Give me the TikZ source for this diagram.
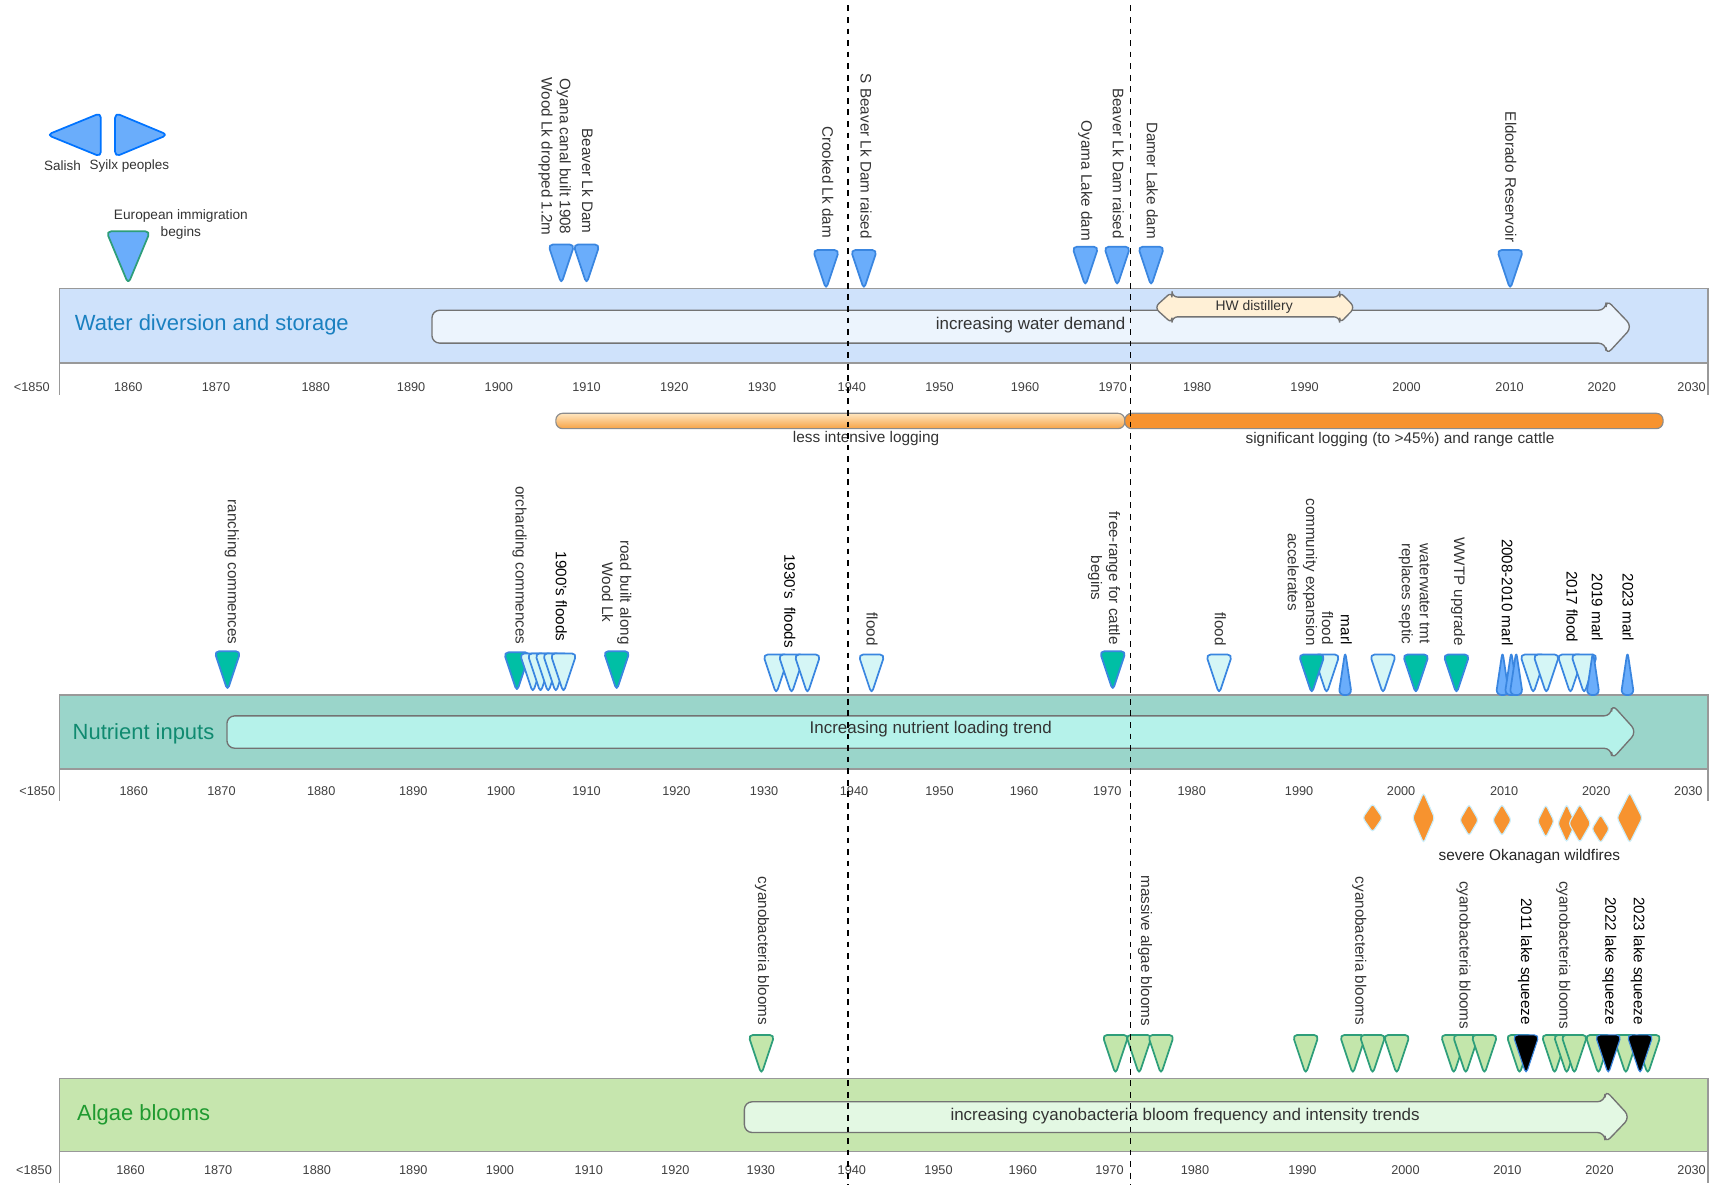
\documentclass[tikz,border=0pt]{standalone}
\usepackage{fontspec}
\setmainfont{Liberation Sans}
\usepackage{tikz}

\definecolor{wband}{HTML}{CFE2FB}
\definecolor{warrow}{HTML}{ECF4FD}
\definecolor{nband}{HTML}{9AD5CA}
\definecolor{narrow}{HTML}{B5F2EA}
\definecolor{aband}{HTML}{C6E6AE}
\definecolor{aarrow}{HTML}{E3F8E3}
\definecolor{mblue}{HTML}{6AADFB}
\definecolor{eblue}{HTML}{3A86E0}
\definecolor{mteal}{HTML}{00BFA5}
\definecolor{mlight}{HTML}{D5F6F6}
\definecolor{mgreen}{HTML}{C3E6AB}
\definecolor{egreen}{HTML}{2E9E7A}
\definecolor{orng}{HTML}{F7932F}
\definecolor{logtop}{HTML}{FFE6BF}
\definecolor{logbot}{HTML}{F7A345}
\definecolor{cream}{HTML}{FFF0D6}
\definecolor{txt}{HTML}{333333}
\definecolor{wtitle}{HTML}{1A80C0}
\definecolor{ntitle}{HTML}{108A70}
\definecolor{atitle}{HTML}{1F9A30}

% down marker, up spike, wildfire diamond
\newcommand{\dmark}[3]{\draw[#1] ({#2-12},#3) -- ({#2+12},#3) -- (#2,{#3+36}) -- cycle;}
\newcommand{\umark}[3]{\draw[#1] (#2,#3) -- ({#2+6},{#3+40}) -- ({#2-6},{#3+40}) -- cycle;}
\newcommand{\blaze}[4]{\draw[fire] (#1,{#2-#4/2}) -- ({#1+#3/2},#2) -- (#1,{#2+#4/2}) -- ({#1-#3/2},#2) -- cycle;}

\begin{document}
\begin{tikzpicture}[x=0.02cm,y=-0.02cm,
	band/.style={draw=black!40,line width=0.7pt},
	trend/.style={draw=black!55,line width=0.7pt,rounded corners=4pt},
	yr/.style={font=\fontsize{6.6}{7}\selectfont,text=black!75},
	evt/.style={rotate=-90,anchor=east,align=center,inner sep=1pt,font=\fontsize{7.9}{9.4}\selectfont,text=txt},
	evtb/.style={evt,text=black},
	lane/.style={anchor=west,inner sep=0pt,font=\fontsize{11.4}{13}\selectfont},
	trendtxt/.style={font=\fontsize{8.8}{10}\selectfont,text=txt},
	dam/.style={fill=mblue,draw=eblue,line width=0.9pt,rounded corners=2.5pt,line join=round},
	farm/.style={dam,fill=mteal},
	flood/.style={dam,fill=mlight},
	marl/.style={dam,rounded corners=3pt},
	bloom/.style={fill=mgreen,draw=egreen,line width=0.9pt,rounded corners=2.5pt,line join=round},
	squeeze/.style={fill=black,draw=eblue,line width=0.6pt,rounded corners=2.5pt},
	fire/.style={fill=orng,draw=cyan!20,line width=0.6pt,rounded corners=1.5pt},
	era/.style={black,dashed,line width=0.7pt}
]
	\useasboundingbox (0,0) rectangle (1568,1081);

	% lanes
	\draw[band,fill=wband] (54,263) rectangle (1558,331);
	\draw[band,fill=nband] (54,634) rectangle (1558,701.5);
	\draw[band,fill=aband] (54,984) rectangle (1558,1050.5);
	\foreach \y in {331,701.5,1050.5} {
		\draw[black!40,line width=0.7pt] (54,\y) -- (54,{\y+29});
		\draw[black!40,line width=0.7pt] (1558,\y) -- (1558,{\y+29});
	}

	\node[lane,text=wtitle] (wlane) at (68,296) {Water diversion and storage};
	\node[lane,text=ntitle] (nlane) at (66,669) {Nutrient inputs};
	\node[lane,text=atitle] (alane) at (70,1017) {Algae blooms};

	% trend arrows
	\draw[trend,fill=warrow] (394,283) -- (1465,283) -- (1465,273) -- (1489,298) -- (1465,324) -- (1465,313) -- (394,313) -- cycle;
	\node[trendtxt] (wtrend) at (940,297) {increasing water demand};
	\draw[trend,fill=cream,rounded corners=3pt] (1053,280.5) -- (1069,266) -- (1069,271) -- (1222,271) -- (1222,266) -- (1236,280.5) -- (1222,295) -- (1222,289) -- (1069,289) -- (1069,295) -- cycle;
	\node[font=\fontsize{7.2}{8}\selectfont,text=txt] (hw) at (1144,280) {HW distillery};
	\draw[trend,fill=narrow] (207,653) -- (1470,653) -- (1470,642) -- (1493,667.5) -- (1470,693) -- (1470,682.5) -- (207,682.5) -- cycle;
	\node[trendtxt] (ntrend) at (849,665) {Increasing nutrient loading trend};
	\draw[trend,fill=aarrow] (679,1005) -- (1464,1005) -- (1464,994) -- (1487,1019) -- (1464,1043) -- (1464,1033) -- (679,1033) -- cycle;
	\node[trendtxt] (atrend) at (1081,1018) {increasing cyanobacteria bloom frequency and intensity trends};

	% axes
	\foreach \x/\t [count=\i] in {29/<1850,117/1860,197/1870,288/1880,375/1890,455/1900,535/1910,615/1920,695/1930,777/1940,857/1950,935/1960,1015/1970,1092/1980,1190/1990,1283/2000,1377/2010,1461/2020,1543/2030}
		\node[yr] (ya\i) at (\x,353) {\t};
	\foreach \x/\t [count=\i] in {34/<1850,122/1860,202/1870,293/1880,377/1890,457/1900,535/1910,617/1920,697/1930,779/1940,857/1950,934/1960,1010/1970,1087/1980,1185/1990,1278/2000,1372/2010,1456/2020,1540/2030}
		\node[yr] (yb\i) at (\x,722) {\t};
	\foreach \x/\t [count=\i] in {31/<1850,119/1860,199/1870,289/1880,377/1890,456/1900,537/1910,616/1920,694/1930,777/1940,856/1950,933/1960,1012/1970,1090/1980,1188/1990,1282/2000,1375/2010,1459/2020,1543/2030}
		\node[yr] (yc\i) at (\x,1067) {\t};

	% logging
	\draw[black!45,line width=0.6pt,rounded corners=3.5pt,top color=logtop,bottom color=logbot] (507,377) rectangle (1026,391);
	\draw[black!45,line width=0.6pt,rounded corners=3.5pt,fill=orng] (1026,377) rectangle (1517,391);
	\node[font=\fontsize{8}{9}\selectfont,text=txt] (lesslog) at (790,400) {less intensive logging};
	\node[font=\fontsize{8}{9}\selectfont,text=txt] (siglog) at (1277,401) {significant logging (to >45\%) and range cattle};

	% water diversion and storage
	\draw[dam,draw=blue!55!cyan] (43,123) -- (92,103) -- (92,143) -- cycle;
	\draw[dam,draw=blue!55!cyan] (105,103) -- (153,123) -- (105,143) -- cycle;
	\node[font=\fontsize{7}{8}\selectfont,text=txt] (salish) at (57,151) {Salish};
	\node[font=\fontsize{7}{8}\selectfont,text=txt] (syilx) at (118,151) {Syilx peoples};
	\draw[dam,draw=egreen] (97,211) -- (137,211) -- (117,259) -- cycle;
	\node[align=center,font=\fontsize{7.1}{8.6}\selectfont,text=txt] (europe) at (165,205) {European immigration\\begins};
	\dmark{dam}{512}{223}
	\dmark{dam}{535}{223}
	\dmark{dam}{753.5}{228}
	\dmark{dam}{788}{228}
	\dmark{dam}{990}{225}
	\dmark{dam}{1019}{225}
	\dmark{dam}{1050}{225}
	\dmark{dam}{1377.5}{228}
	\node[evt] (oyana) at (506,217) {Oyana canal built 1908\\Wood Lk dropped 1.2m};
	\node[evt] (beaver) at (536,215) {Beaver Lk Dam};
	\node[evt] (crooked) at (755,219) {Crooked Lk dam};
	\node[evt] (sbeaver) at (790,220) {S Beaver Lk Dam raised};
	\node[evt] (oyama) at (990,222) {Oyama Lake dam};
	\node[evt] (braised) at (1020,220) {Beaver Lk Dam raised};
	\node[evt] (damer) at (1051,220) {Damer Lake dam};
	\node[evt] (eldorado) at (1378,223) {Eldorado Reservoir};

	% nutrient inputs
	\dmark{farm}{207.5}{594}
	\dmark{farm}{471.5}{595}
	\foreach \x in {486,493,500,507,514} {\dmark{flood}{\x}{596}}
	\dmark{farm}{562.5}{594}
	\foreach \x in {708,722,736.5} {\dmark{flood}{\x}{597}}
	\dmark{flood}{795}{597}
	\dmark{farm}{1015}{594}
	\dmark{flood}{1112}{597}
	\dmark{flood}{1210}{597}
	\dmark{farm}{1196.5}{597}
	\umark{marl}{1227}{594}
	\dmark{flood}{1261.5}{597}
	\dmark{farm}{1291.5}{597}
	\dmark{farm}{1328.5}{597}
	\foreach \x in {1398.5,1410.5,1432.5,1445} {\dmark{flood}{\x}{597}}
	\foreach \x in {1370.5,1378.5,1383,1453,1484.5} {\umark{marl}{\x}{594}}
	\node[evt] (ranch) at (211.5,590) {ranching commences};
	\node[evt] (orchard) at (474,590) {orcharding commences};
	\node[evtb] (floods1900) at (512,587) {1900's floods};
	\node[evt] (road) at (562.5,590) {road built along\\Wood Lk};
	\node[evtb] (floods1930) at (720.5,593) {1930's\ \ floods};
	\node[evt] (flood42) at (795.5,591) {flood};
	\node[evt] (cattle) at (1007,590) {free-range for cattle\\begins};
	\node[evt] (flood83) at (1113,591) {flood};
	\node[evt] (community) at (1188,591) {community expansion\\accelerates};
	\node[evt] (flood93) at (1211,590) {flood};
	\node[evtb] (marl94) at (1228,590) {marl};
	\node[evt] (septic) at (1290,590) {waterwater tmt\\replaces septic};
	\node[evt] (wwtp) at (1330,591) {WWTP upgrade};
	\node[evtb] (marl08) at (1375,591) {2008-2010 marl};
	\node[evtb] (flood17) at (1434,588) {2017 flood};
	\node[evtb] (marl19) at (1457,587) {2019 marl};
	\node[evtb] (marl23) at (1485,587) {2023 marl};

	% wildfires
	\blaze{1252}{746}{18}{26}
	\blaze{1298.5}{746}{20}{46}
	\blaze{1340}{748}{17}{29}
	\blaze{1370}{748}{17}{29}
	\blaze{1410}{749}{15}{30}
	\blaze{1429}{751}{16}{35}
	\blaze{1441}{751}{20}{35}
	\blaze{1460}{756}{16}{26}
	\blaze{1486.5}{746}{23}{46}
	\node[font=\fontsize{8}{9}\selectfont,text=black!85] (fires) at (1395,781) {severe Okanagan wildfires};

	% algae blooms
	\foreach \x in {694.5,1017.5,1039,1059,1191,1234,1252,1274,1326,1337,1354,1386,1418,1429,1436,1458,1483,1503}
		{\dmark{bloom}{\x}{944}}
	\foreach \x in {1392,1467,1496} {\dmark{squeeze}{\x}{944}}
	\node[evt] (cyano1) at (695,937) {cyanobacteria blooms};
	\node[evt] (massive) at (1044.5,938) {massive algae blooms};
	\node[evt] (cyano2) at (1240,937) {cyanobacteria blooms};
	\node[evt] (cyano3) at (1335,941) {cyanobacteria blooms};
	\node[evtb] (sq11) at (1391,937) {2011 lake squeeze};
	\node[evt] (cyano4) at (1426,941) {cyanobacteria blooms};
	\node[evtb] (sq22) at (1468,937) {2022 lake squeeze};
	\node[evtb] (sq23) at (1494,937) {2023 lake squeeze};

	% period lines
	\draw[era] (773.6,5) -- (773.6,1081);
	\draw[era] (1031,5) -- (1031,1081);
\end{tikzpicture}
\end{document}
